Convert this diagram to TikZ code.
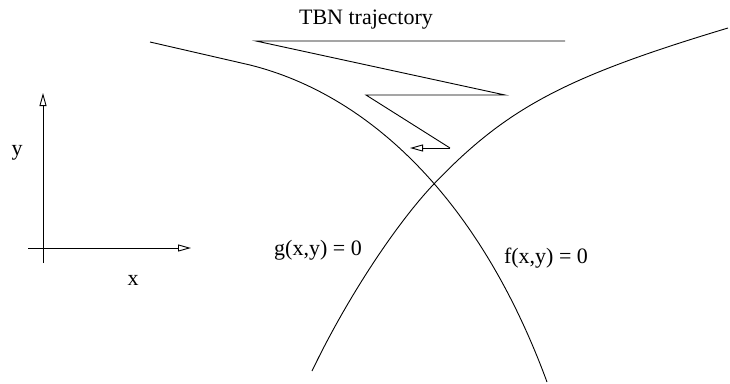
\documentclass[tikz,border=0pt]{standalone}
\usepackage{fontspec}
\setmainfont{Liberation Serif}
\usetikzlibrary{arrows.meta}
\begin{document}
\begin{tikzpicture}[x=1pt,y=-1pt,
  curve/.style={line width=0.9pt},
  axis/.style={line width=0.9pt,-{Triangle[open,length=13pt,width=7pt]}},
  lbl/.style={font=\fontsize{22}{26}\selectfont, inner sep=0pt}]
\useasboundingbox (0,0) rectangle (730,383);
% axes
\coordinate (yb) at (43,263);
\coordinate (yt) at (43,93);
\coordinate (xl) at (28,248);
\coordinate (xr) at (191,248);
\draw[axis] (yb) -- (yt);
\draw[axis] (xl) -- (xr);
\node[lbl] (ylab) at (17,153) {y};
\node[lbl] (xlab) at (133,280) {x};
% curves
\coordinate (a0) at (150,42);
\coordinate (a1) at (250,65);
\coordinate (a2) at (547,382);
\draw[curve] (a0) -- (a1) .. controls (370,95) and (480,200) .. (a2);
\coordinate (b0) at (728,28);
\coordinate (bx) at (432,186);
\coordinate (b2) at (312,371);
\draw[curve] (b0) .. controls (565,77) and (506,108) .. (bx)
  .. controls (393,228) and (345,302) .. (b2);
% trajectory
\node[lbl] (tbn) at (366,20) {TBN trajectory};
\coordinate (t0) at (565,41);
\coordinate (t1) at (256,41);
\coordinate (t2) at (505,95);
\coordinate (t3) at (366,95);
\coordinate (t4) at (450,148);
\coordinate (t5) at (410,148);
\draw[curve] (t0) -- (t1) -- (t2) -- (t3) -- (t4);
\draw[axis] (t4) -- (t5);
\node[lbl] (g) at (318,250) {g(x,y) = 0};
\node[lbl] (f) at (546,258) {f(x,y) = 0};
\end{tikzpicture}
\end{document}
